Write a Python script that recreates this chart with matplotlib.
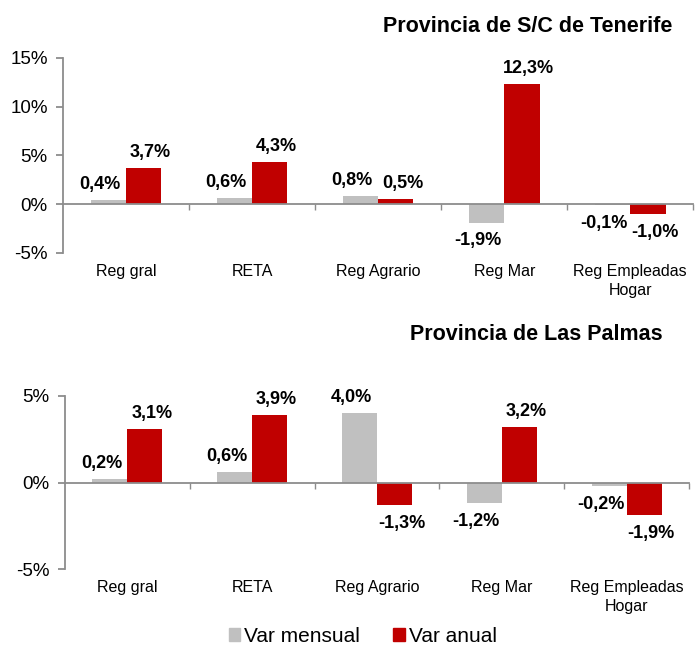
import matplotlib
matplotlib.use("Agg")
import matplotlib.pyplot as plt
from matplotlib.patches import Patch

plt.rcParams['font.family'] = ['Liberation Sans', 'DejaVu Sans']

categories = ["Reg gral", "RETA", "Reg Agrario", "Reg Mar", "Reg Empleadas\nHogar"]

# Provincia de S/C de Tenerife
tf_mensual = [0.4, 0.6, 0.8, -1.9, -0.1]
tf_anual = [3.7, 4.3, 0.5, 12.3, -1.0]

# Provincia de Las Palmas
lp_mensual = [0.2, 0.6, 4.0, -1.2, -0.2]
lp_anual = [3.1, 3.9, -1.3, 3.2, -1.9]

titles = ["Provincia de S/C de Tenerife", "Provincia de Las Palmas"]
series_names = ["Var mensual", "Var anual"]

GRAY = "#C0C0C0"
RED = "#C00000"
AXCOL = "#8C8C8C"
W = 0.28


def fmt(v):
    return ("%.1f%%" % v).replace(".", ",")


def draw_panel(ax, mensual, anual, ylim, yticks):
    x = list(range(len(categories)))
    ax.bar([i - W / 2 for i in x], mensual, W, color=GRAY, zorder=2)
    ax.bar([i + W / 2 for i in x], anual, W, color=RED, zorder=2)

    ax.set_xlim(-0.5, len(categories) - 0.5)
    ax.set_ylim(*ylim)
    ax.set_yticks(yticks)
    ax.set_yticklabels(["%d%%" % t for t in yticks], fontsize=13.5)

    for s in ["top", "right"]:
        ax.spines[s].set_visible(False)
    ax.spines["left"].set_color(AXCOL)
    ax.spines["left"].set_linewidth(1.3)
    ax.spines["bottom"].set_position(("data", 0))
    ax.spines["bottom"].set_color(AXCOL)
    ax.spines["bottom"].set_linewidth(1.3)
    ax.spines["bottom"].set_zorder(3)

    ax.set_xticks([i + 0.5 for i in x])
    ax.set_xticklabels([])
    ax.tick_params(axis="x", length=4, color=AXCOL, width=1)
    ax.tick_params(axis="y", length=5, color=AXCOL, width=1.3, pad=6)

    for i, cat in enumerate(categories):
        ax.annotate(cat, xy=(i, 0), xycoords=ax.get_xaxis_transform(),
                    xytext=(0, -8), textcoords="offset points",
                    ha="center", va="top", fontsize=11.5, linespacing=1.3)

    for i in x:
        for v, dx in ((mensual[i], -6), (anual[i], 5)):
            xpos = i - W / 2 if dx < 0 else i + W / 2
            if v >= 0:
                ax.annotate(fmt(v), xy=(xpos, v), xytext=(dx, 5),
                            textcoords="offset points", ha="center",
                            va="bottom", fontsize=13, fontweight="bold")
            else:
                ax.annotate(fmt(v), xy=(xpos, v), xytext=(dx, -7),
                            textcoords="offset points", ha="center",
                            va="top", fontsize=13, fontweight="bold")


fig = plt.figure(figsize=(6.95, 6.53), dpi=100)

ax1 = fig.add_axes([0.0906, 0.6126, 0.907, 0.2986])
draw_panel(ax1, tf_mensual, tf_anual, (-5, 15), [-5, 0, 5, 10, 15])

ax2 = fig.add_axes([0.0935, 0.1286, 0.898, 0.265])
draw_panel(ax2, lp_mensual, lp_anual, (-5, 5), [-5, 0, 5])

fig.text(0.967, 0.9587, titles[0], ha="right", va="center",
         fontsize=15.5, fontweight="bold")
fig.text(0.954, 0.487, titles[1], ha="right", va="center",
         fontsize=15.5, fontweight="bold")

handles = [Patch(color=GRAY, label=series_names[0]),
           Patch(color=RED, label=series_names[1])]
fig.legend(handles=handles, loc="lower center", bbox_to_anchor=(0.522, -0.005),
           ncol=2, frameon=False, fontsize=15, handlelength=0.55,
           handleheight=0.55, handletextpad=0.2, columnspacing=1.6,
           borderpad=0)

fig.savefig("out.png", dpi=100)
